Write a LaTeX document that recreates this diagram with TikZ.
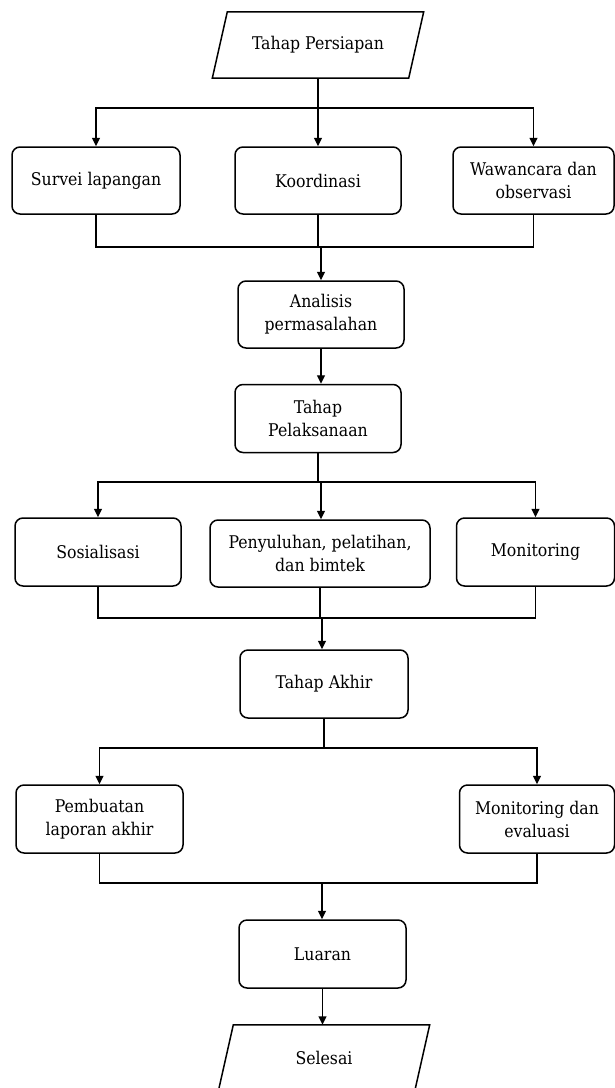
\documentclass[tikz,border=0pt]{standalone}
\usepackage{fontspec}
\setmainfont{DejaVu Serif Condensed}
\usetikzlibrary{arrows.meta,calc}
\begin{document}
\begin{tikzpicture}[x=1pt,y=-1pt,
  txt/.style={font=\fontsize{17.5}{23}\selectfont},
  box/.style={draw,line width=1.5pt,rounded corners=8pt,align=center,inner sep=0pt,txt},
  para/.style={align=center,inner sep=0pt,txt},
  conn/.style={line width=1.4pt},
  arr/.style={conn,-{Triangle[length=8.5pt,width=8pt]}}]
\useasboundingbox (0,0) rectangle (615,1088);
% nodes
\node[para,minimum width=196pt,minimum height=66pt] (tp) at (318,45) {Tahap Persiapan};
\draw[line width=1.5pt] ([xshift=-7.5pt]tp.south west) -- ([xshift=7.5pt]tp.north west) -- ([xshift=7.5pt]tp.north east) -- ([xshift=-7.5pt]tp.south east) -- cycle;
\node[box,minimum width=168pt,minimum height=67pt] (sv) at (96,180.5) {Survei lapangan};
\node[box,minimum width=166pt,minimum height=67pt] (ko) at (318,180.5) {Koordinasi};
\node[box,minimum width=161pt,minimum height=67pt] (ww) at (533.5,180.5) {Wawancara dan\\observasi};
\node[box,minimum width=166pt,minimum height=67pt] (an) at (321,314.5) {Analisis\\permasalahan};
\node[box,minimum width=166pt,minimum height=68pt] (pl) at (318,418.5) {Tahap\\Pelaksanaan};
\node[box,minimum width=166pt,minimum height=68pt] (so) at (98,552) {Sosialisasi};
\node[box,minimum width=220pt,minimum height=67pt] (pe) at (320,553.5) {Penyuluhan, pelatihan,\\dan bimtek};
\node[box,minimum width=158pt,minimum height=68pt] (mo) at (535.5,552) {Monitoring};
\node[box,minimum width=168pt,minimum height=68pt] (ak) at (324,684) {Tahap Akhir};
\node[box,minimum width=167pt,minimum height=68pt] (pb) at (99.5,819) {Pembuatan\\laporan akhir};
\node[box,minimum width=155pt,minimum height=68pt] (me) at (537,819) {Monitoring dan\\evaluasi};
\node[box,minimum width=167pt,minimum height=68pt] (lu) at (322.5,954) {Luaran};
\node[para,minimum width=196pt,minimum height=66pt] (se) at (324,1058) {Selesai};
\draw[line width=1.5pt] ([xshift=-7.5pt]se.south west) -- ([xshift=7.5pt]se.north west) -- ([xshift=7.5pt]se.north east) -- ([xshift=-7.5pt]se.south east) -- cycle;
% junctions
\coordinate (j1) at (318,108);
\coordinate (j2) at (321,247);
\coordinate (j3) at (321,482);
\coordinate (j4) at (322,618);
\coordinate (j5) at (323,748);
\coordinate (j6) at (322,883);
% connectors
\draw[conn] (tp.south) -- (j1);
\draw[arr] (j1) -| (sv.north);
\draw[arr] (j1) -- (ko.north);
\draw[arr] (j1) -| (ww.north);
\draw[conn] (sv.south) |- (j2);
\draw[conn] (ww.south) |- (j2);
\draw[conn] (ko.south) |- (j2);
\draw[arr] (j2) -- (an.north);
\draw[arr] (an.south) -- (an.south |- pl.north);
\draw[conn] (pl.south) |- (j3);
\draw[arr] (j3) -| (so.north);
\draw[arr] (j3) -- (j3 |- pe.north);
\draw[arr] (j3) -| (mo.north);
\draw[conn] (so.south) |- (j4);
\draw[conn] (mo.south) |- (j4);
\draw[conn] (pe.south) |- (j4);
\draw[arr] (j4) -- (j4 |- ak.north);
\draw[conn] (ak.south) |- (j5);
\draw[arr] (j5) -| (pb.north);
\draw[arr] (j5) -| (me.north);
\draw[conn] (pb.south) |- (j6);
\draw[conn] (me.south) |- (j6);
\draw[arr] (j6) -- (j6 |- lu.north);
\draw[arr] (lu.south) -- (lu.south |- se.north);
\end{tikzpicture}
\end{document}
